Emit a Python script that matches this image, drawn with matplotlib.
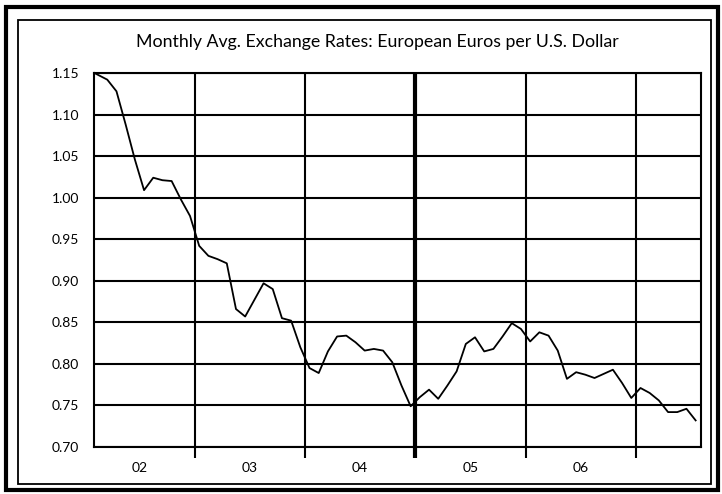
import matplotlib
matplotlib.use("Agg")
import matplotlib.pyplot as plt
from matplotlib.patches import Rectangle
import numpy as np

# ---- data ----
title = "Monthly Avg. Exchange Rates: European Euros per U.S. Dollar"
start_year, start_month = 2002, 2   # first observation: Feb 2002
rates = [
    # 2002 Feb-Dec
    1.150, 1.142, 1.128, 1.088, 1.046, 1.009, 1.024, 1.021, 1.020, 0.998, 0.978,
    # 2003
    0.942, 0.930, 0.926, 0.921, 0.866, 0.857, 0.877, 0.897, 0.890, 0.855, 0.852, 0.820,
    # 2004
    0.795, 0.789, 0.815, 0.833, 0.834, 0.826, 0.816, 0.818, 0.816, 0.802, 0.774, 0.749,
    # 2005
    0.760, 0.769, 0.758, 0.774, 0.791, 0.824, 0.832, 0.815, 0.818, 0.833, 0.849, 0.842,
    # 2006
    0.827, 0.838, 0.834, 0.816, 0.782, 0.790, 0.787, 0.783, 0.788, 0.793, 0.777, 0.759,
    # 2007 Jan-Jul
    0.771, 0.765, 0.756, 0.742, 0.742, 0.746, 0.732,
]
year_labels = ["02", "03", "04", "05", "06"]
y_ticks = [0.70, 0.75, 0.80, 0.85, 0.90, 0.95, 1.00, 1.05, 1.10, 1.15]
y_labels = ["0.70", "0.75", "0.80", "0.85", "0.90", "0.95", "1.00", "1.05", "1.10", "1.15"]

# months since Jan 2002, points at the middle of each month slot
x = (start_month - 1) + np.arange(len(rates)) + 0.5
x[0] = 1.1  # series starts at the left edge of the plot

plt.rcParams['font.family'] = ['Lato', 'DejaVu Sans']

W, H = 722, 494
fig = plt.figure(figsize=(W / 100, H / 100), dpi=100)
fig.patch.set_facecolor('white')

def fx(px):
    return px / W

def fy(py):
    return 1 - py / H

# outer thick border and inner thin border
outer = Rectangle((fx(6), fy(490)), fx(718) - fx(6), fy(7) - fy(490),
                  transform=fig.transFigure, fill=False, lw=3.0, ec='black')
inner = Rectangle((fx(18), fy(484)), fx(711) - fx(18), fy(20) - fy(484),
                  transform=fig.transFigure, fill=False, lw=1.3, ec='black')
fig.patches.extend([outer, inner])

ax = fig.add_axes([fx(94.4), fy(447), fx(700.7) - fx(94.4), fy(73) - fy(447)])
ax.set_xlim(1.1, 67.05)
ax.set_ylim(0.70, 1.15)

# horizontal grid
ax.set_yticks(y_ticks)
ax.set_yticklabels(y_labels, fontsize=10)
ax.tick_params(axis='y', length=0, pad=11)
ax.yaxis.grid(True, color='black', lw=1.5)

# year boundaries as major ticks (gridlines), labels at year centres as minor
boundaries = [12 * (i + 1) for i in range(len(year_labels))]
ax.set_xticks(boundaries)
ax.set_xticklabels([])
ax.tick_params(axis='x', which='major', length=8, width=1.5, direction='out', color='black')
ax.set_xticks([12 * i + 6 for i in range(len(year_labels))], minor=True)
ax.set_xticklabels(year_labels, minor=True, fontsize=10)
ax.tick_params(axis='x', which='minor', length=0, pad=11)
for b in boundaries:
    lw = 3.0 if b == 36 else 1.5
    ax.axvline(b, color='black', lw=lw, zorder=1)
# thicker tick for 2005
ax.xaxis.get_major_ticks()[2].tick1line.set_markeredgewidth(3.0)

for s in ax.spines.values():
    s.set_linewidth(1.5)
    s.set_color('black')

ax.plot(x, rates, color='black', lw=1.3, zorder=3, clip_on=False)

fig.text(fx(377), fy(42), title, ha='center', va='center', fontsize=12.8)

fig.savefig("out.png", dpi=100, facecolor='white')
